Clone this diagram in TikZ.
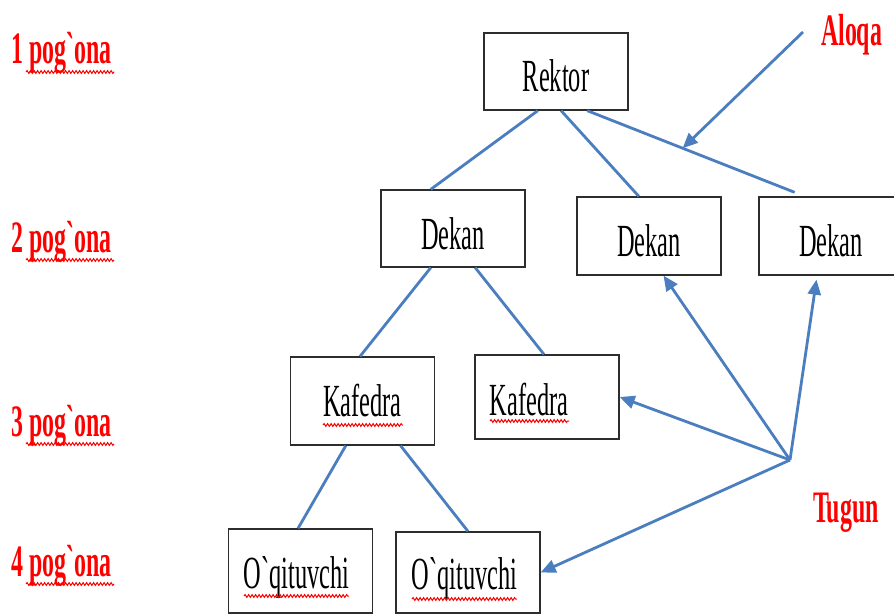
\documentclass[tikz,border=0pt]{standalone}
\usepackage{fontspec}
\usetikzlibrary{calc, arrows.meta, decorations.pathmorphing}
\newfontfamily\boxfont{Liberation Serif}[FakeStretch=0.53, Ligatures=TeXOff]
\definecolor{linkBlue}{RGB}{74, 126, 190}
\definecolor{boxGray}{RGB}{45, 45, 45}

\begin{document}
\begin{tikzpicture}[
        x=1pt, y=-1pt,
        unitBox/.style={draw=boxGray, line width=1.3pt, fill=white, inner sep=0pt, minimum width=144pt, minimum height=77pt, font=\boxfont\fontsize{46}{50}\selectfont, text height=41pt, text depth=0pt},
        lvlLabel/.style={text=red, inner sep=0pt, anchor=base west, font=\boxfont\bfseries\fontsize{45}{48}\selectfont},
        tie/.style={draw=linkBlue, line width=2.8pt},
        tieArrow/.style={tie, -{Triangle[length=15pt, width=13pt]}},
        spellWave/.style={draw=red, line width=1pt, decorate, decoration={snake, amplitude=1.4pt, segment length=3.5pt}}
    ]
        \useasboundingbox (0,0) rectangle (894,615);
        \clip (0,0) rectangle (894,615);

        % Bo`g`inlar
        \node[unitBox] (rektor) at (556,71.5) {Rektor};
        \node[unitBox] (dekanA) at (453,228.5) {Dekan};
        \node[unitBox, minimum height=78pt] (dekanB) at (649,236) {Dekan};
        \node[unitBox, minimum height=78pt] (dekanC) at (831,236) {Dekan};
        \node[unitBox, minimum height=88pt, text height=30pt] (kafA) at (362.5,401) {Kafedra};
        \node[unitBox, minimum height=84pt, text height=36pt] (kafB) at (547,397) {Kafedra\hspace*{36pt}};
        \node[unitBox, minimum height=84pt, text height=34pt] (oqA) at (300.5,571) {O`qituvchi\hspace*{8pt}};
        \node[unitBox, minimum height=81pt, text height=33pt] (oqB) at (468,572.5) {O`qituvchi\hspace*{7pt}};

        % Pog`onalar
        \foreach \n/\y in {1/64, 2/252, 3/436, 4/576} {
            \node[lvlLabel] (lvl\n) at (11,\y) {\n{} pog`ona};
            \draw[spellWave] ($(lvl\n.base west)+(15,8)$) -- ++(88,0);
        }
        \node[lvlLabel] (aloqa) at (821,46) {Aloqa};
        \node[lvlLabel] (tugun) at (813,522) {Tugun};

        % Imlo belgilari
        \draw[spellWave] ($(kafA.center)+(-39.5,24)$) -- ++(80,0);
        \draw[spellWave] ($(kafB.center)+(-57,24)$) -- ++(79,0);
        \draw[spellWave] ($(oqA.center)+(-56.5,25)$) -- ++(105,0);
        \draw[spellWave] ($(oqB.center)+(-56,26.5)$) -- ++(105,0);

        % Ierarxiya aloqalari
        \foreach \from/\fa/\to/\ta in {rektor/0.375/dekanA/0.347, rektor/0.535/dekanB/0.43, dekanA/0.347/kafA/0.483, dekanA/0.653/kafB/0.479, kafA/0.385/oqA/0.483, kafA/0.762/oqB/0.5}
            \draw[tie] ($(\from.south west)!\fa!(\from.south east)$) -- ($(\to.north west)!\ta!(\to.north east)$);
        \coordinate (rekC) at ($(rektor.south west)!0.715!(rektor.south east)$);
        \coordinate (dekC) at ($(dekanC.north west)!0.25!(dekanC.north east)+(0,-4)$);
        \draw[tie] (rekC) -- (dekC);

        % Aloqa ko`rsatkichi
        \coordinate (aloqaTail) at (803,32);
        \draw[tieArrow] (aloqaTail) -- ($(rekC)!0.46!(dekC)$);

        % Tugun
        \coordinate (tugunHub) at (790,460);
        \draw[tieArrow] (tugunHub) -- ($(dekanB.south west)!0.6!(dekanB.south east)$);
        \draw[tieArrow] (tugunHub) -- ($(dekanC.south west)!0.4!(dekanC.south east)+(0,4)$);
        \draw[tieArrow] (tugunHub) -- (kafB.east);
        \draw[tieArrow] (tugunHub) -- (oqB.east);
    \end{tikzpicture}
\end{document}
